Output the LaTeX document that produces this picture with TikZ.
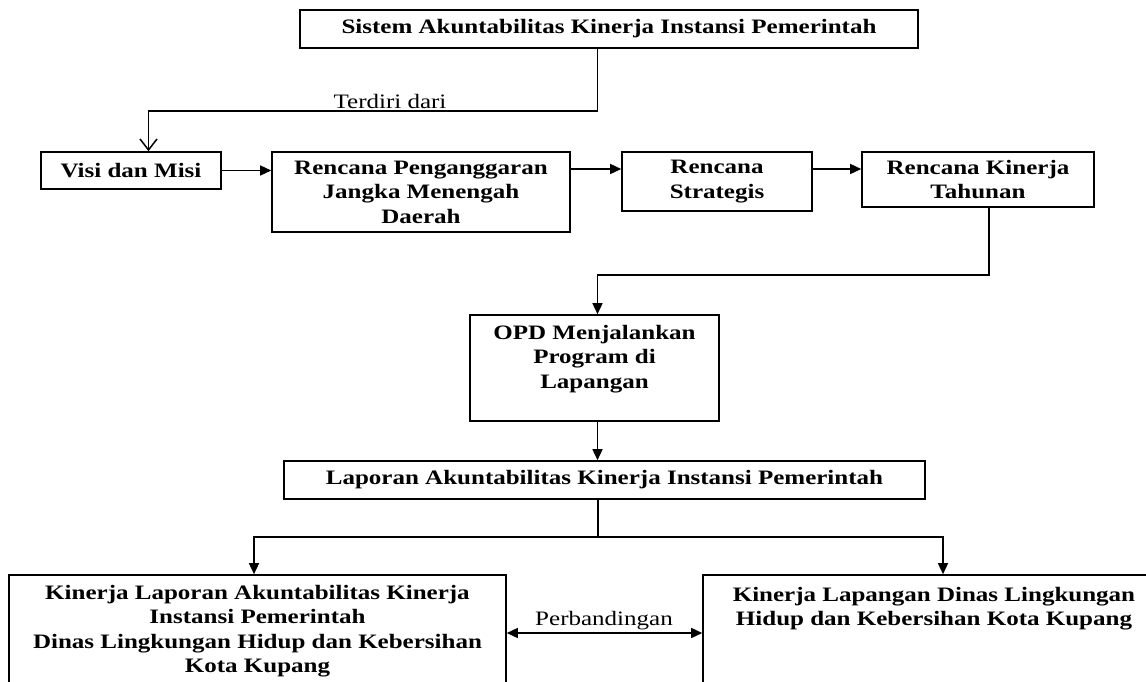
\documentclass[tikz,border=0pt]{standalone}
\usepackage{fontspec}
\setmainfont{Liberation Serif}[FakeStretch=1.22]
\usetikzlibrary{arrows.meta}
\begin{document}
\begin{tikzpicture}[x=1pt,y=-1pt,
  box/.style={draw,line width=1.6pt,align=center,font=\bfseries,inner sep=0pt},
  conn/.style={line width=1.5pt},
  farrow/.style={conn,-{Triangle[length=11pt,width=10pt]}},
  oarrow/.style={conn,-{Straight Barb[length=11pt,width=17pt,line width=1.5pt]}},
  darrow/.style={conn,{Triangle[length=11pt,width=10pt]}-{Triangle[length=11pt,width=10pt]}},
  lbl/.style={inner sep=0pt}]
\fontsize{20.5}{24.5}\selectfont
\useasboundingbox (0,0) rectangle (1146,682);

\node[box,minimum width=618pt,minimum height=38pt] (top) at (609,29) {Sistem Akuntabilitas Kinerja Instansi Pemerintah};
\node[box,minimum width=180pt,minimum height=37pt] (visi) at (131,170.5) {Visi dan Misi};
\node[box,minimum width=298pt,minimum height=80pt] (rp) at (421,192) {Rencana Penganggaran\\Jangka Menengah\\Daerah};
\node[box,minimum width=190pt,minimum height=59pt] (rs) at (717,181.5) {Rencana\\Strategis};
\node[box,minimum width=232pt,minimum height=55pt] (rkt) at (978,179.5) {Rencana Kinerja\\Tahunan};
\node[box,minimum width=249pt,minimum height=106pt,text depth=23pt] (opd) at (594.5,368) {OPD Menjalankan\\Program di\\Lapangan};
\node[box,minimum width=641pt,minimum height=38pt] (lakip) at (604.5,480) {Laporan Akuntabilitas Kinerja Instansi Pemerintah};
\node[box,minimum width=497pt,minimum height=112pt] (left) at (257.5,631) {Kinerja Laporan Akuntabilitas Kinerja\\Instansi Pemerintah\\Dinas Lingkungan Hidup dan Kebersihan\\Kota Kupang};
\node[box,minimum width=462pt,minimum height=112pt] (right) at (934,631) {Kinerja Lapangan Dinas Lingkungan\\Hidup dan Kebersihan Kota Kupang\\\mbox{}\\\mbox{}};

% top -> visi
\coordinate (t1) at (597.5,111);
\coordinate (t2) at (148.5,111);
\draw[oarrow] (top.south -| t1) -- (t1) -- (t2) -- (t2 |- visi.north);
\node[lbl] (terdiri) at (390,101) {Terdiri dari};

% row arrows
\coordinate (ay) at (0,169);
\draw[farrow] (visi.east) -- (rp.west |- visi.east);
\draw[farrow] (rp.east |- ay) -- (rs.west |- ay);
\draw[farrow] (rs.east |- ay) -- (rkt.west |- ay);

% rkt -> opd
\coordinate (r1) at (989,275);
\coordinate (r2) at (597.5,275);
\draw[farrow] (rkt.south -| r1) -- (r1) -- (r2) -- (r2 |- opd.north);

% opd -> lakip
\coordinate (o1) at (597.5,440);
\draw[farrow] (opd.south -| o1) -- (lakip.north -| o1);

% lakip -> left / right
\coordinate (l1) at (598,537);
\coordinate (l2) at (254,537);
\coordinate (l3) at (943,537);
\draw[conn] (lakip.south -| l1) -- (l1);
\draw[farrow] (l1) -- (l2) -- (l2 |- left.north);
\draw[farrow] (l1) -- (l3) -- (l3 |- right.north);

% comparison
\coordinate (cy) at (0,633);
\draw[darrow] (left.east |- cy) -- (right.west |- cy);
\node[lbl] (perb) at (604,621) {Perbandingan};
\end{tikzpicture}
\end{document}
